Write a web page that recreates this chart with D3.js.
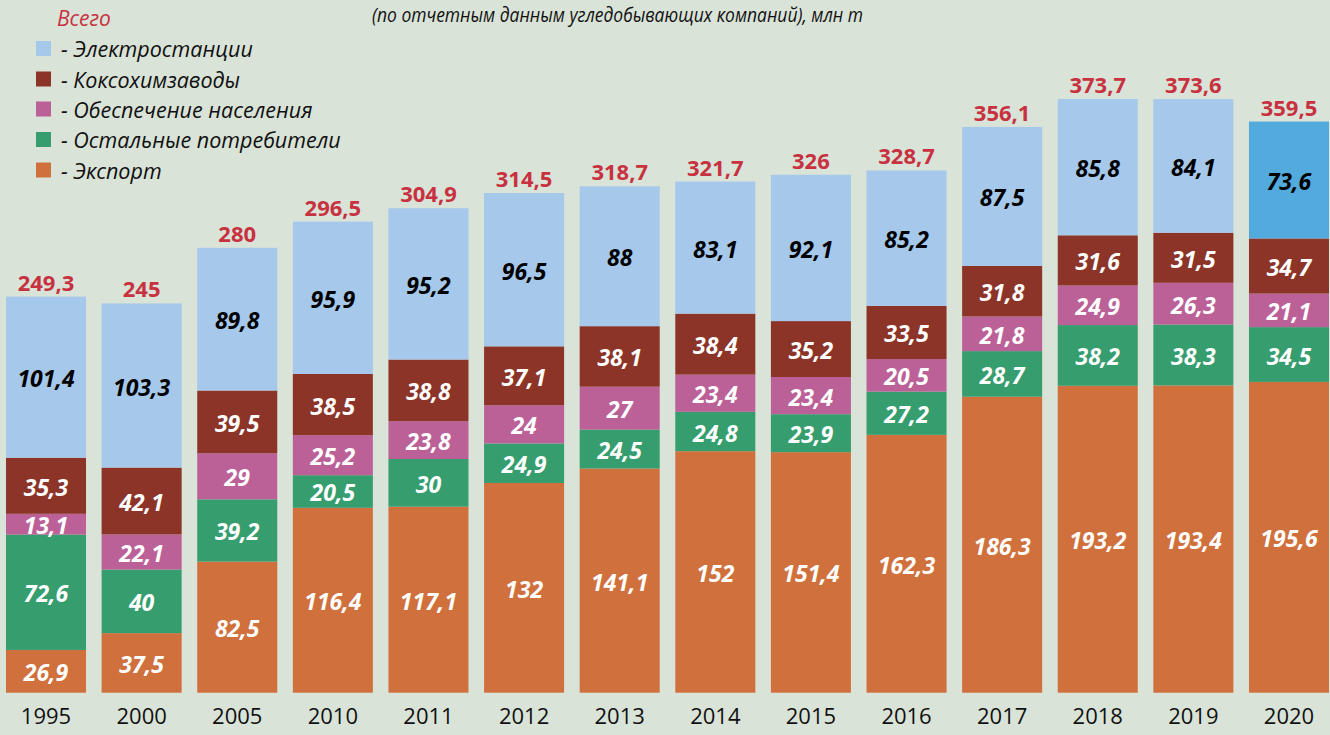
<!DOCTYPE html>
<html>
<head>
<meta charset="utf-8">
<script src="https://cdn.jsdelivr.net/npm/d3@7"></script>
<style>
  html, body { margin: 0; padding: 0; background: #d9e3d8; }
  svg { display: block; font-family: "Open Sans", "Noto Sans", sans-serif; }
</style>
</head>
<body>
<svg id="chart" width="1330" height="735"></svg>
<script>
const years = ['1995','2000','2005','2010','2011','2012','2013','2014','2015','2016','2017','2018','2019','2020'];
const exportVals = [26.9,37.5,82.5,116.4,117.1,132,141.1,152,151.4,162.3,186.3,193.2,193.4,195.6];
const otherVals = [72.6,40,39.2,20.5,30,24.9,24.5,24.8,23.9,27.2,28.7,38.2,38.3,34.5];
const populationVals = [13.1,22.1,29,25.2,23.8,24,27,23.4,23.4,20.5,21.8,24.9,26.3,21.1];
const cokeVals = [35.3,42.1,39.5,38.5,38.8,37.1,38.1,38.4,35.2,33.5,31.8,31.6,31.5,34.7];
const powerVals = [101.4,103.3,89.8,95.9,95.2,96.5,88,83.1,92.1,85.2,87.5,85.8,84.1,73.6];
const totals = [249.3,245,280,296.5,304.9,314.5,318.7,321.7,326,328.7,356.1,373.7,373.6,359.5];

const seriesKeys = ['export','other','population','coke','power'];
const seriesNames = {
  power: '- Электростанции',
  coke: '- Коксохимзаводы',
  population: '- Обеспечение населения',
  other: '- Остальные потребители',
  export: '- Экспорт'
};
const legendOrder = ['power','coke','population','other','export'];
const colors = {
  export: '#d0703c', other: '#359d6e', population: '#bb6198',
  coke: '#8b3427', power: '#a5c8eb'
};
const power2020Color = '#52aadd';
const totalLabel = 'Всего';
const title = '(по отчетным данным угледобывающих компаний), млн т';

const table = years.map((y, i) => ({
  year: y, export: exportVals[i], other: otherVals[i], population: populationVals[i],
  coke: cokeVals[i], power: powerVals[i], total: totals[i]
}));

const fmt = v => String(v).replace('.', ',');
const svg = d3.select('#chart');

const x = d3.scaleBand().domain(years).range([6, 1329]).paddingInner(0.163).paddingOuter(0);
const y = d3.scaleLinear().domain([0, 436]).range([692.7, 0]);

const stacked = d3.stack().keys(seriesKeys)(table);

const layers = svg.append('g').selectAll('g.layer').data(stacked).join('g').attr('class', 'layer');

layers.selectAll('rect').data(s => s.map(d => ({d, key: s.key}))).join('rect')
  .attr('x', o => x(o.d.data.year))
  .attr('width', x.bandwidth())
  .attr('y', o => y(o.d[1]))
  .attr('height', o => y(o.d[0]) - y(o.d[1]))
  .attr('fill', o => (o.key === 'power' && o.d.data.year === '2020') ? power2020Color : colors[o.key]);

layers.selectAll('text').data(s => s.map(d => ({d, key: s.key}))).join('text')
  .attr('x', o => x(o.d.data.year) + x.bandwidth() / 2)
  .attr('y', o => (y(o.d[0]) + y(o.d[1])) / 2 + 1)
  .attr('text-anchor', 'middle')
  .attr('dominant-baseline', 'central')
  .attr('font-size', 23)
  .attr('font-weight', 700)
  .attr('font-style', 'italic')
  .attr('fill', o => o.key === 'power' ? '#000' : '#fff')
  .text(o => fmt(o.d.data[o.key]));

// totals
svg.append('g').selectAll('text').data(table).join('text')
  .attr('x', d => x(d.year) + x.bandwidth() / 2)
  .attr('y', d => y(d.total) - 15)
  .attr('text-anchor', 'middle')
  .attr('dominant-baseline', 'central')
  .attr('font-size', 22)
  .attr('font-weight', 700)
  .attr('fill', '#c8313f')
  .text(d => fmt(d.total));

// x axis labels
const xAxis = d3.axisBottom(x).tickSize(0).tickPadding(0);
const ax = svg.append('g').attr('transform', 'translate(0,707)').call(xAxis);
ax.select('.domain').remove();
ax.selectAll('text').attr('font-size', 22).attr('fill', '#111')
  .attr('font-family', '"Open Sans", sans-serif').attr('dy', '0.75em').attr('y', 0);

// title
svg.append('text').attr('x', 372).attr('y', 22)
  .attr('font-size', 20).attr('font-style', 'italic').attr('fill', '#111')
  .attr('textLength', 491).attr('lengthAdjust', 'spacingAndGlyphs')
  .text(title);

// legend
svg.append('text').attr('x', 57).attr('y', 18).attr('dominant-baseline', 'central')
  .attr('font-size', 21).attr('font-style', 'italic').attr('fill', '#c8313f')
  .text(totalLabel);

const rowY = [48.5, 79, 109, 139.5, 170];
const lg = svg.append('g').selectAll('g').data(legendOrder).join('g')
  .attr('transform', (k, i) => `translate(36,${rowY[i]})`);
lg.append('rect').attr('x', 0).attr('y', -7.5).attr('width', 15).attr('height', 15)
  .attr('fill', k => colors[k]);
lg.append('text').attr('x', 25).attr('y', 0).attr('dominant-baseline', 'central')
  .attr('font-size', 21.5).attr('font-style', 'italic').attr('fill', '#111')
  .text(k => seriesNames[k]);
</script>
</body>
</html>
